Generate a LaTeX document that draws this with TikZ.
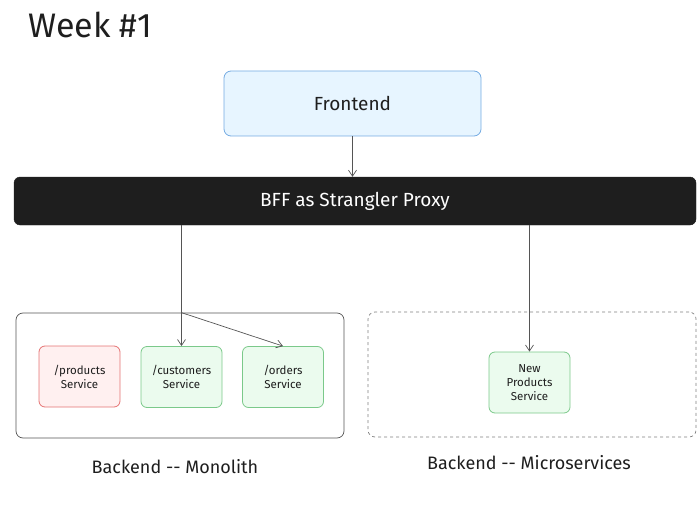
\documentclass[tikz,border=0pt]{standalone}
\usepackage{fontspec}
\setmainfont{Fira Sans}
\usepackage{xcolor}
\usepackage{tikz}
\usetikzlibrary{positioning, arrows.meta}

\definecolor{inkblack}{HTML}{1E1E1E}
\definecolor{feblue}{HTML}{E7F5FF}
\definecolor{feborder}{HTML}{74ABE2}
\definecolor{oldred}{HTML}{FFF0F0}
\definecolor{oldborder}{HTML}{E57373}
\definecolor{newgreen}{HTML}{EBFBEE}
\definecolor{newborder}{HTML}{7BC98A}
\definecolor{linegray}{HTML}{555555}

\begin{document}
\begin{tikzpicture}[x=1pt, y=-1pt,
    every node/.style={text=inkblack, align=center},
    svcbox/.style={draw, rounded corners=6pt, line width=0.8pt, minimum width=81pt, minimum height=61pt, font=\fontsize{11.5}{14}\selectfont},
    groupbox/.style={draw=linegray, rounded corners=7pt, line width=0.7pt, minimum width=328pt, minimum height=125pt},
    flow/.style={draw=linegray, line width=0.7pt, -{Straight Barb[length=6pt, width=8pt]}}]
    \useasboundingbox (0,0) rectangle (700,513);

    \node[font=\fontsize{34}{38}\selectfont] (title) at (90,25) {Week \#1};

    \node[draw=feborder, fill=feblue, rounded corners=7pt, line width=0.8pt, minimum width=257pt, minimum height=65pt, font=\fontsize{19}{22}\selectfont] (front) at (352.5,103.5) {Frontend};
    \node[draw=inkblack, fill=inkblack, text=white, rounded corners=6pt, minimum width=682pt, minimum height=48pt, font=\fontsize{19}{22}\selectfont] (bff) at (355,201) {BFF as Strangler Proxy};

    % monolith side
    \node[groupbox] (mono) at (180,375.5) {};
    \node[svcbox, draw=oldborder, fill=oldred] (products) at (79.5,376.5) {/products\\Service};
    \node[svcbox, draw=newborder, fill=newgreen] (customers) at (181.5,377) {/customers\\Service};
    \node[svcbox, draw=newborder, fill=newgreen] (orders) at (283,377) {/orders\\Service};
    \node[font=\fontsize{18}{21}\selectfont] (monolbl) at (175,467) {Backend -{}- Monolith};

    % microservices side
    \node[groupbox, dashed, draw=gray] (micro) at (532,374.5) {};
    \node[svcbox, draw=newborder, fill=newgreen] (newprod) at (529.5,382.5) {New\\Products\\Service};
    \node[font=\fontsize{18}{21}\selectfont] (microlbl) at (529,463) {Backend -{}- Microservices};

    \coordinate (split) at (customers.north |- mono.north);

    \draw[flow] (front.south) -- (front.south |- bff.north);
    \draw[flow] (customers.north |- bff.south) -- (customers.north);
    \draw[flow] (split) -- (orders.north);
    \draw[flow] (newprod.north |- bff.south) -- (newprod.north);
\end{tikzpicture}
\end{document}
